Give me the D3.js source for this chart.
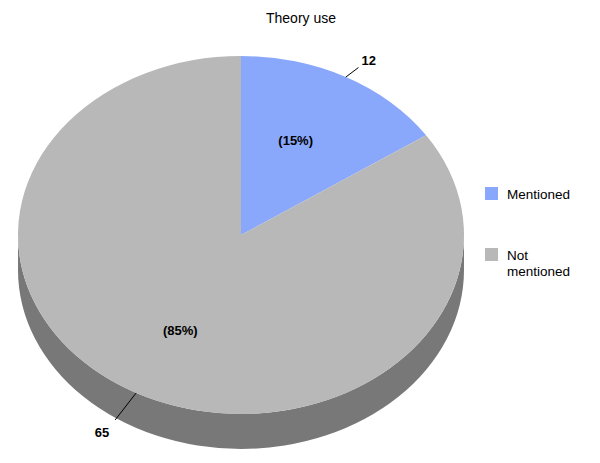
<!DOCTYPE html>
<html><head><meta charset="utf-8">
<script src="https://cdn.jsdelivr.net/npm/d3@7"></script>
<style>body{margin:0;background:#fff}svg{display:block}text{font-family:"Liberation Sans",Arial,sans-serif}</style>
</head><body><svg id="c" width="600" height="463"></svg>
<script>
const categories = ["Mentioned", "Not mentioned"];
const values = [12, 65];
const percentLabels = ["(15%)", "(85%)"];
const colors = ["#8aa8fb", "#b8b8b8"];
const sideColors = ["#5f77b8", "#787878"];
const title = "Theory use";

const svg = d3.select("#c");
const cx = 241, cy = 235, rx = 223, ry = 179, depth = 35;
const pie = d3.pie().sort(null).value(d => d)(values);
const pt = (a, dy = 0, sx = 1, sy = 1) => [cx + rx * sx * Math.sin(a), cy - ry * sy * Math.cos(a) + dy];

// sides (visible front half: angles PI/2..3PI/2)
pie.forEach((p, i) => {
  const s = Math.max(p.startAngle, Math.PI / 2), e = Math.min(p.endAngle, 3 * Math.PI / 2);
  if (e <= s) return;
  const a = pt(s), b = pt(e), b2 = pt(e, depth), a2 = pt(s, depth);
  const large = (e - s) > Math.PI ? 1 : 0;
  const d = `M${a}A${rx},${ry} 0 ${large} 1 ${b}L${b2}A${rx},${ry} 0 ${large} 0 ${a2}Z`;
  svg.append("path").attr("d", d).attr("fill", sideColors[i]);
});
// top faces
pie.forEach((p, i) => {
  const a = pt(p.startAngle), b = pt(p.endAngle);
  const large = (p.endAngle - p.startAngle) > Math.PI ? 1 : 0;
  svg.append("path").attr("d", `M${cx},${cy}L${a}A${rx},${ry} 0 ${large} 1 ${b}Z`).attr("fill", colors[i]);
});
// labels
pie.forEach((p, i) => {
  const m = (p.startAngle + p.endAngle) / 2;
  const inner = pt(m, 0, 0.55, 0.6);
  svg.append("text").attr("x", inner[0] - 3).attr("y", inner[1] + 5).attr("text-anchor", "middle")
    .attr("font-size", 13).attr("font-weight", "bold").text(percentLabels[i]);
  const lower = Math.cos(m) < 0;
  const s0 = pt(m);
  const e0 = pt(m, lower ? depth * 0.5 : 0, lower ? 1.2 : 1.12, 1.06);
  svg.append("line").attr("x1", s0[0]).attr("y1", s0[1]).attr("x2", e0[0]).attr("y2", e0[1])
    .attr("stroke", "#000").attr("stroke-width", 1);
  const right = Math.sin(m) > 0;
  svg.append("text").attr("x", e0[0] + (right ? 3 : -6)).attr("y", e0[1] + (lower ? 17 : -3))
    .attr("text-anchor", right ? "start" : "end").attr("font-size", 13).attr("font-weight", "bold")
    .text(values[i]);
});
// title
svg.append("text").attr("x", 301).attr("y", 23).attr("text-anchor", "middle").attr("font-size", 14).text(title);
// legend
const lg = svg.append("g");
const ly = d3.scalePoint().domain(categories).range([187, 248]);
categories.forEach((c, i) => {
  lg.append("rect").attr("x", 485).attr("y", ly(c)).attr("width", 13).attr("height", 13).attr("fill", colors[i]);
  const words = i === 1 ? ["Not", "mentioned"] : [c];
  words.forEach((w, j) => lg.append("text").attr("x", 507).attr("y", ly(c) + 12 + j * 16)
    .attr("font-size", 13.5).text(w));
});
</script></body></html>
